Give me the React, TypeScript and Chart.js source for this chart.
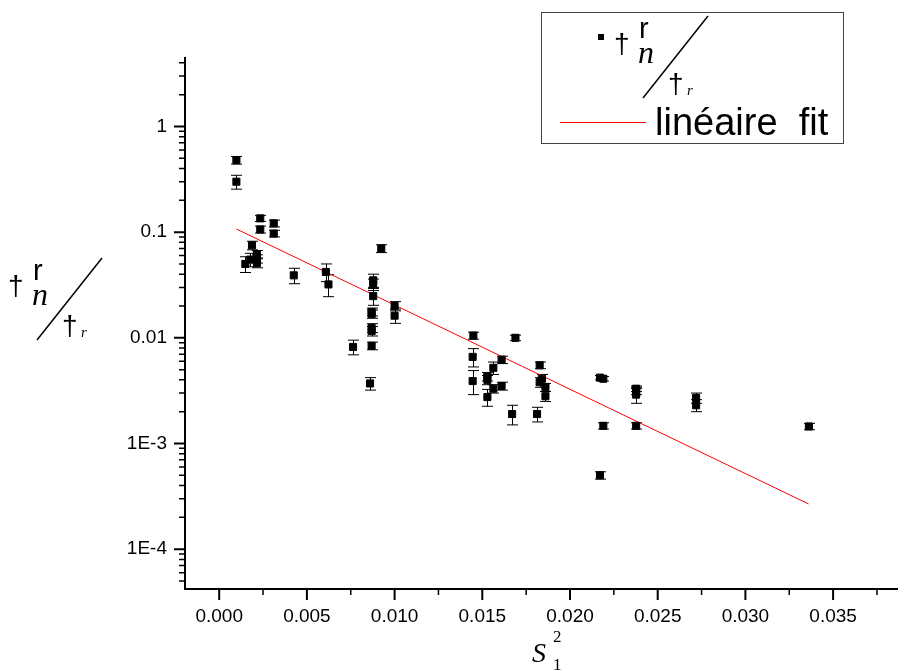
import React, { useEffect, useRef } from "react";
import { Chart, registerables } from "chart.js";

Chart.register(...registerables);

// ---- data ----
const xValues = [
  0.00098, 0.00098, 0.00234, 0.00234, 0.00311, 0.00311, 0.00187, 0.00177, 0.00149,
  0.00215, 0.00215, 0.00215, 0.00425, 0.00608, 0.00623, 0.00924, 0.00878, 0.00878,
  0.00878, 0.00869, 0.00869, 0.00869, 0.00869, 0.0100, 0.0100, 0.00763, 0.00869,
  0.0086, 0.01449, 0.01689, 0.01445, 0.01445, 0.0161, 0.01563, 0.01529, 0.01529,
  0.01563, 0.01529, 0.0161, 0.0167, 0.01812, 0.01827, 0.0184, 0.01827, 0.0186,
  0.0186, 0.02171, 0.0219, 0.0219, 0.02171, 0.02377, 0.02377, 0.02377, 0.02377,
  0.02719, 0.02719, 0.03362,
];
const yValues = [
  0.48, 0.30, 0.135, 0.106, 0.121, 0.097, 0.075, 0.055, 0.050,
  0.062, 0.056, 0.051, 0.039, 0.042, 0.032, 0.070, 0.035, 0.032,
  0.0248, 0.0176, 0.0168, 0.0124, 0.0116, 0.0200, 0.0162, 0.0082, 0.0084,
  0.0037, 0.0105, 0.0100, 0.0066, 0.0039, 0.0062, 0.0052, 0.0043, 0.0040,
  0.0033, 0.00275, 0.0035, 0.0019, 0.0019, 0.0055, 0.0041, 0.0038, 0.0034,
  0.0028, 0.0042, 0.0041, 0.00147, 0.0005, 0.0033, 0.0031, 0.0029, 0.00147,
  0.0027, 0.0023, 0.00145,
];
const yErrors = [
  0.04, 0.045, 0.009, 0.008, 0.009, 0.007, 0.007, 0.008, 0.0085,
  0.005, 0.005, 0.005, 0.0065, 0.008, 0.0075, 0.006, 0.005, 0.004,
  0.0045, 0.0015, 0.0015, 0.0012, 0.0012, 0.002, 0.0025, 0.0013, 0.0007,
  0.0005, 0.0008, 0.0006, 0.0013, 0.001, 0.0005, 0.0007, 0.0004, 0.0004,
  0.0003, 0.0005, 0.0003, 0.0004, 0.0003, 0.0004, 0.0004, 0.0004, 0.0003,
  0.0003, 0.0002, 0.0002, 0.0001, 0.00004, 0.0002, 0.0002, 0.0005, 0.0001,
  0.0003, 0.0003, 0.0001,
];
const fitX = [0.00098, 0.0336];
const fitY = [0.107, 0.000268];

const xTickValues = [0, 0.005, 0.01, 0.015, 0.02, 0.025, 0.03, 0.035];
const xTickLabels = ["0.000", "0.005", "0.010", "0.015", "0.020", "0.025", "0.030", "0.035"];
const xMinorTickValues = [0.0025, 0.0075, 0.0125, 0.0175, 0.0225, 0.0275, 0.0325, 0.0375];
const yTickValues = [1e-4, 1e-3, 0.01, 0.1, 1];
const yTickLabels = ["1E-4", "1E-3", "0.01", "0.1", "1"];
const yMinorMultipliers = [2, 3, 4, 5, 6, 7, 8, 9];
const yMinorDecades = [1e-5, 1e-4, 1e-3, 0.01, 0.1, 1];
const legendFitLabel = "linéaire  fit";

const SANS = "'Liberation Sans', Arial, sans-serif";
const SERIF = "'Liberation Serif', 'Times New Roman', serif";

function drawTauLabel(ctx: CanvasRenderingContext2D, ox: number, oy: number) {
  ctx.save();
  ctx.fillStyle = "#000";
  ctx.strokeStyle = "#000";
  ctx.textAlign = "left";
  ctx.textBaseline = "alphabetic";
  ctx.font = `28px ${SANS}`;
  ctx.fillText("†", ox - 29, oy - 45);
  ctx.font = `29px ${SANS}`;
  ctx.fillText("r", ox - 4, oy - 60);
  ctx.font = `italic 32px ${SERIF}`;
  ctx.fillText("n", ox - 5, oy - 35);
  ctx.font = `28px ${SANS}`;
  ctx.fillText("†", ox + 25, oy - 5);
  ctx.font = `italic 15px ${SERIF}`;
  ctx.fillText("r", ox + 44, oy - 3);
  ctx.lineWidth = 1.5;
  ctx.beginPath();
  ctx.moveTo(ox, oy);
  ctx.lineTo(ox + 65, oy - 82);
  ctx.stroke();
  ctx.restore();
}

const errorBarPlugin = {
  id: "errorBars",
  beforeDatasetsDraw(chart: any) {
    const { ctx } = chart;
    const xs = chart.scales.x;
    const ys = chart.scales.y;
    ctx.save();
    ctx.strokeStyle = "#000";
    ctx.lineWidth = 1;
    for (let i = 0; i < xValues.length; i++) {
      const px = Math.round(xs.getPixelForValue(xValues[i])) + 0.5;
      const top = ys.getPixelForValue(yValues[i] + yErrors[i]);
      const bot = ys.getPixelForValue(Math.max(yValues[i] - yErrors[i], 1e-9));
      ctx.beginPath();
      ctx.moveTo(px, top);
      ctx.lineTo(px, bot);
      ctx.moveTo(px - 5.5, top);
      ctx.lineTo(px + 5.5, top);
      ctx.moveTo(px - 5.5, bot);
      ctx.lineTo(px + 5.5, bot);
      ctx.stroke();
    }
    ctx.restore();
  },
};

const axesPlugin = {
  id: "axesDecor",
  afterDraw(chart: any) {
    const { ctx, chartArea } = chart;
    const xs = chart.scales.x;
    const ys = chart.scales.y;
    const left = chartArea.left;
    const bottom = chartArea.bottom;
    ctx.save();
    ctx.strokeStyle = "#000";
    ctx.lineCap = "butt";
    ctx.lineWidth = 2;
    ctx.beginPath();
    ctx.moveTo(left, chartArea.top);
    ctx.lineTo(left, bottom + 1);
    ctx.moveTo(left - 1, bottom);
    ctx.lineTo(chartArea.right, bottom);
    ctx.stroke();
    ctx.beginPath();
    for (const v of xTickValues) {
      const p = xs.getPixelForValue(v);
      ctx.moveTo(p, bottom);
      ctx.lineTo(p, bottom + 11);
    }
    ctx.stroke();
    ctx.lineWidth = 1.5;
    ctx.beginPath();
    for (const v of xMinorTickValues) {
      if (v < xs.min || v > xs.max) continue;
      const p = xs.getPixelForValue(v);
      ctx.moveTo(p, bottom);
      ctx.lineTo(p, bottom + 6);
    }
    ctx.stroke();
    ctx.lineWidth = 2;
    ctx.beginPath();
    for (const v of yTickValues) {
      const p = ys.getPixelForValue(v);
      ctx.moveTo(left, p);
      ctx.lineTo(left - 11, p);
    }
    ctx.stroke();
    ctx.lineWidth = 1.5;
    ctx.beginPath();
    for (const d of yMinorDecades) {
      for (const m of yMinorMultipliers) {
        const v = d * m;
        if (v < ys.min || v > ys.max) continue;
        const p = ys.getPixelForValue(v);
        ctx.moveTo(left, p);
        ctx.lineTo(left - 6, p);
      }
    }
    ctx.stroke();
    ctx.restore();
  },
};

const labelsPlugin = {
  id: "labelsDecor",
  afterDraw(chart: any) {
    const { ctx } = chart;
    drawTauLabel(ctx, 37, 340);
    ctx.save();
    ctx.fillStyle = "#000";
    ctx.textAlign = "left";
    ctx.textBaseline = "alphabetic";
    ctx.font = `italic 28px ${SERIF}`;
    ctx.fillText("S", 532, 662);
    ctx.font = `17px ${SERIF}`;
    ctx.fillText("2", 553, 642);
    ctx.fillText("1", 553, 670);
    ctx.restore();
    ctx.save();
    ctx.fillStyle = "#fff";
    ctx.fillRect(541.5, 12.5, 302, 131);
    ctx.strokeStyle = "#444";
    ctx.lineWidth = 1;
    ctx.strokeRect(541.5, 12.5, 302, 131);
    ctx.fillStyle = "#000";
    ctx.fillRect(598, 34, 6, 6);
    ctx.restore();
    drawTauLabel(ctx, 643, 98);
    ctx.save();
    ctx.strokeStyle = "#ff0000";
    ctx.lineWidth = 1;
    ctx.beginPath();
    ctx.moveTo(560, 122.5);
    ctx.lineTo(646, 122.5);
    ctx.stroke();
    ctx.fillStyle = "#000";
    ctx.textAlign = "left";
    ctx.textBaseline = "alphabetic";
    ctx.font = `38px ${SANS}`;
    ctx.fillText(legendFitLabel, 655, 135);
    ctx.restore();
  },
};

export default function App() {
  const canvasRef = useRef<HTMLCanvasElement | null>(null);

  useEffect(() => {
    const canvas = canvasRef.current;
    if (!canvas) return;
    const points = xValues.map((x, i) => ({ x, y: yValues[i] }));
    const fit = fitX.map((x, i) => ({ x, y: fitY[i] }));
    const chart = new Chart(canvas, {
      type: "scatter",
      data: {
        datasets: [
          {
            label: "points",
            data: points,
            pointStyle: "rect",
            pointRadius: 5,
            backgroundColor: "#000",
            borderColor: "#000",
            borderWidth: 1,
            showLine: false,
          },
          {
            label: legendFitLabel,
            data: fit,
            showLine: true,
            borderColor: "#ff0000",
            borderWidth: 1,
            pointRadius: 0,
            fill: false,
          },
        ],
      } as any,
      options: {
        animation: false,
        responsive: false,
        devicePixelRatio: 1,
        layout: { padding: { top: 57, right: 2, left: 0, bottom: 0 } },
        plugins: { legend: { display: false }, tooltip: { enabled: false } },
        scales: {
          x: {
            type: "linear",
            position: "bottom",
            min: -0.00195,
            max: 0.0387,
            bounds: "data",
            grid: { display: false, drawTicks: false },
            border: { display: false },
            ticks: {
              font: { family: SANS, size: 19 },
              color: "#000",
              padding: 16,
              maxRotation: 0,
              minRotation: 0,
              autoSkip: false,
              includeBounds: false,
              callback: (v: any) => {
                const i = xTickValues.findIndex((t) => Math.abs(t - Number(v)) < 1e-9);
                return i >= 0 ? xTickLabels[i] : "";
              },
            },
            afterBuildTicks: (s: any) => {
              s.ticks = xTickValues.map((v) => ({ value: v }));
            },
            afterFit: (s: any) => {
              s.height = 82;
            },
          },
          y: {
            type: "logarithmic",
            min: 4.2e-5,
            max: 4.54,
            bounds: "data",
            grid: { display: false, drawTicks: false },
            border: { display: false },
            ticks: {
              font: { family: SANS, size: 19 },
              color: "#000",
              padding: 18,
              autoSkip: false,
              callback: (v: any) => {
                const i = yTickValues.findIndex((t) => Math.abs(Math.log10(t) - Math.log10(Number(v))) < 1e-6);
                return i >= 0 ? yTickLabels[i] : "";
              },
            },
            afterBuildTicks: (s: any) => {
              s.ticks = yTickValues.map((v) => ({ value: v }));
            },
            afterFit: (s: any) => {
              s.width = 185;
            },
          },
        },
      } as any,
      plugins: [errorBarPlugin, axesPlugin, labelsPlugin],
    });
    return () => chart.destroy();
  }, []);

  return (
    <div style={{ position: "absolute", left: 0, top: 0, width: 904, height: 671, background: "#fff" }}>
      <canvas ref={canvasRef} width={904} height={671} style={{ display: "block" }} />
    </div>
  );
}
